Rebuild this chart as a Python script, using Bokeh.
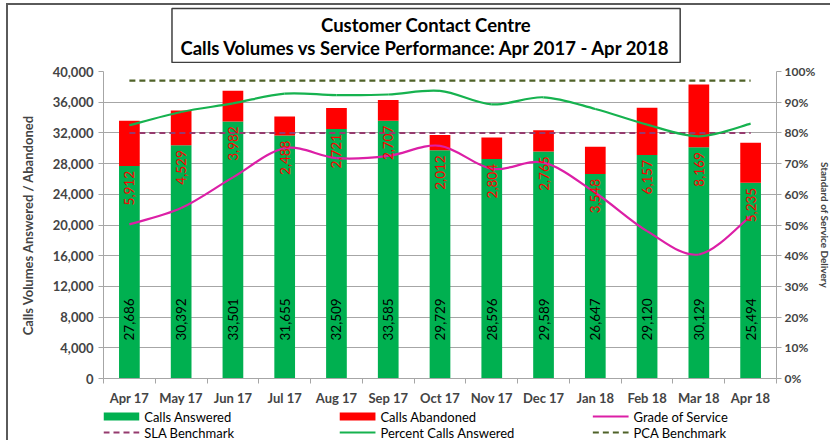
import numpy as np
from bokeh.plotting import figure
from bokeh.layouts import column
from bokeh.models import (ColumnDataSource, Range1d, LinearAxis, FixedTicker,
                          NumeralTickFormatter, PrintfTickFormatter)
from bokeh.core.properties import value
from bokeh.embed import file_html
from bokeh.resources import INLINE

# ---------------- data ----------------
months = ["Apr 17", "May 17", "Jun 17", "Jul 17", "Aug 17", "Sep 17", "Oct 17",
          "Nov 17", "Dec 17", "Jan 18", "Feb 18", "Mar 18", "Apr 18"]
answered = [27686, 30392, 33501, 31655, 32509, 33585, 29729,
            28596, 29589, 26647, 29120, 30129, 25494]
abandoned = [5912, 4529, 3982, 2488, 2721, 2707, 2012,
             2804, 2765, 3548, 6157, 8169, 5235]
grade_of_service = [50.2, 55.5, 65.5, 75.0, 71.8, 72.5, 75.8,
                    68.3, 70.3, 60.5, 48.0, 40.4, 52.9]
percent_answered = [82.5, 86.8, 89.6, 92.8, 92.3, 92.5, 93.7,
                    89.3, 91.6, 87.8, 82.7, 78.9, 83.0]
sla_benchmark = [80, 80, 80, 80, 80, 80, 80, 80, 80, 80, 80, 80, 80]
pca_benchmark = [97, 97, 97, 97, 97, 97, 97, 97, 97, 97, 97, 97, 97]
left_ticks = [0, 4000, 8000, 12000, 16000, 20000, 24000, 28000, 32000, 36000, 40000]
right_ticks = [0, 10, 20, 30, 40, 50, 60, 70, 80, 90, 100]
title_lines = ["Customer Contact Centre",
               "Calls Volumes vs Service Performance: Apr 2017 - Apr 2018"]
series_names = ["Calls Answered", "Calls Abandoned", "Grade of Service",
                "SLA Benchmark", "Percent Calls Answered", "PCA Benchmark"]

# ---------------- style ----------------
FONT = "Lato"
GREEN = "#00B050"
RED = "#FF0000"
MAGENTA = "#DC1FA6"
SLA_COLOR = "#953A6E"
PCA_LINE = "#16B24F"
PCA_BENCH = "#4F6228"
GRID = "#A6A6A6"
ANSWERED_LABEL_Y = 7700
FRAME_W = 673
FIG_W = 821

idx = list(range(len(months)))
src = ColumnDataSource(dict(
    x=idx,
    answered=answered,
    abandoned=abandoned,
    answered_lbl=[f"{v:,}" for v in answered],
    abandoned_lbl=[f"{v:,}" for v in abandoned],
    lbl_y=[ANSWERED_LABEL_Y] * len(idx),
))


def smooth_segments(xs, ys):
    """Bezier control points (Excel-like smoothing) for the bezier glyph."""
    n = len(ys)
    d = dict(x0=[], y0=[], x1=[], y1=[], cx0=[], cy0=[], cx1=[], cy1=[])
    for i in range(n - 1):
        ym = ys[max(i - 1, 0)]
        yp = ys[min(i + 2, n - 1)]
        xm = xs[max(i - 1, 0)]
        xp = xs[min(i + 2, n - 1)]
        d["x0"].append(xs[i]); d["y0"].append(ys[i])
        d["x1"].append(xs[i + 1]); d["y1"].append(ys[i + 1])
        d["cx0"].append(xs[i] + (xs[i + 1] - xm) / 6.0)
        d["cy0"].append(ys[i] + (ys[i + 1] - ym) / 6.0)
        d["cx1"].append(xs[i + 1] - (xp - xs[i]) / 6.0)
        d["cy1"].append(ys[i + 1] - (yp - ys[i]) / 6.0)
    return ColumnDataSource(d)


def strip(height):
    f = figure(width=FIG_W, height=height, x_range=Range1d(0, FRAME_W),
               y_range=Range1d(0, height), x_axis_location=None,
               y_axis_location=None, min_border=0, output_backend="svg",
               toolbar_location=None, background_fill_color="white",
               border_fill_color="white")
    f.grid.visible = False
    f.outline_line_color = None
    return f


# ---------------- title strip (frame aligned with the chart frame) ----------------
tf = strip(58)
tf.quad(left=[69], right=[581], top=[55], bottom=[1], fill_color="white",
        line_color="#3F3F3F", line_width=1.5)
tf.text(x=[325, 325], y=[39, 16], text=title_lines, text_align="center",
        text_baseline="middle", text_color="black", text_font=value(FONT),
        text_font_style="bold", text_font_size="18.5px")

# ---------------- main chart ----------------
p = figure(frame_width=FRAME_W, frame_height=307,
           min_border_left=95, min_border_right=53,
           min_border_top=8, min_border_bottom=0,
           x_range=Range1d(-0.5, len(months) - 0.5),
           y_range=Range1d(0, 40000),
           output_backend="svg", toolbar_location=None,
           background_fill_color="white", border_fill_color="white")
p.outline_line_color = None
p.extra_y_ranges = {"pct": Range1d(0, 100)}

p.vbar_stack(["answered", "abandoned"], x="x", width=0.4,
             color=[GREEN, RED], line_color=None, source=src)

p.line(idx, sla_benchmark, y_range_name="pct", line_color=SLA_COLOR,
       line_width=2, line_dash="6 4")
p.line(idx, pca_benchmark, y_range_name="pct", line_color=PCA_BENCH,
       line_width=2.2, line_dash="6 4")
p.bezier(x0="x0", y0="y0", x1="x1", y1="y1", cx0="cx0", cy0="cy0",
         cx1="cx1", cy1="cy1", source=smooth_segments(idx, percent_answered),
         y_range_name="pct", line_color=PCA_LINE, line_width=2.2)
p.bezier(x0="x0", y0="y0", x1="x1", y1="y1", cx0="cx0", cy0="cy0",
         cx1="cx1", cy1="cy1", source=smooth_segments(idx, grade_of_service),
         y_range_name="pct", line_color=MAGENTA, line_width=2.2)

p.text(x="x", y="lbl_y", text="answered_lbl", source=src, angle=np.pi / 2,
       text_align="center", text_baseline="middle", text_color="black",
       text_font=value(FONT), text_font_size="13.5px")
p.text(x="x", y="answered", text="abandoned_lbl", source=src, angle=np.pi / 2,
       text_align="right", text_baseline="middle", y_offset=5, text_color=RED,
       text_font=value(FONT), text_font_size="13.5px")

# left axis
p.yaxis.ticker = FixedTicker(ticks=left_ticks)
p.yaxis.formatter = NumeralTickFormatter(format="0,0")
p.yaxis.axis_label = "Calls Volumes Answered / Abandoned"
p.yaxis.axis_label_text_font = FONT
p.yaxis.axis_label_text_font_style = "bold"
p.yaxis.axis_label_text_font_size = "13px"
p.yaxis.axis_label_standoff = 14
p.yaxis.major_label_text_font = FONT
p.yaxis.major_label_text_font_style = "bold"
p.yaxis.major_label_text_font_size = "13px"
p.yaxis.axis_line_color = GRID
p.yaxis.major_tick_line_color = GRID
p.yaxis.major_tick_out = 5
p.yaxis.major_tick_in = 0
p.yaxis.minor_tick_line_color = None
p.yaxis.major_label_standoff = 5

# bottom axis (ticks between categories)
p.xaxis.ticker = FixedTicker(ticks=idx, minor_ticks=[i - 0.5 for i in range(len(idx) + 1)])
p.xaxis.major_label_overrides = {i: m for i, m in zip(idx, months)}
p.xaxis.major_tick_out = 0
p.xaxis.major_tick_in = 0
p.xaxis.minor_tick_out = 5
p.xaxis.minor_tick_in = 0
p.xaxis.minor_tick_line_color = GRID
p.xaxis.axis_line_color = GRID
p.xaxis.major_label_standoff = 6
p.xaxis.major_label_text_font = FONT
p.xaxis.major_label_text_font_style = "bold"
p.xaxis.major_label_text_font_size = "13px"

# right axis
right = LinearAxis(y_range_name="pct", ticker=FixedTicker(ticks=right_ticks),
                   formatter=PrintfTickFormatter(format="%d%%"))
right.axis_line_color = GRID
right.major_tick_line_color = GRID
right.major_tick_out = 5
right.major_tick_in = 0
right.minor_tick_line_color = None
right.major_label_standoff = 3
right.major_label_text_font = FONT
right.major_label_text_font_style = "bold"
right.major_label_text_font_size = "12px"
right.axis_label = "Standard of Service Delivery"
right.axis_label_standoff = 1
right.axis_label_text_font = FONT
right.axis_label_text_font_style = "bold"
right.axis_label_text_font_size = "10px"
p.add_layout(right, "right")

p.ygrid.ticker = FixedTicker(ticks=left_ticks)
p.ygrid.grid_line_color = GRID
p.xgrid.visible = False

# ---------------- legend strip (3 columns x 2 rows) ----------------
LEG_H = 32
lf = strip(LEG_H)
col_x = [0, 238, 493]            # key start of each column (frame px)
key_w = 36
row_y = [LEG_H - 8, LEG_H - 24]  # row centres
# row 1: box, box, line ; row 2: dashed, line, dashed
lf.quad(left=[col_x[0], col_x[1]], right=[col_x[0] + key_w, col_x[1] + key_w],
        top=[row_y[0] + 4] * 2, bottom=[row_y[0] - 4] * 2,
        fill_color=[GREEN, RED], line_color=None)
lf.line([col_x[2], col_x[2] + key_w], [row_y[0]] * 2, line_color=MAGENTA, line_width=2.2)
lf.line([col_x[0], col_x[0] + key_w], [row_y[1]] * 2, line_color=SLA_COLOR,
        line_width=2, line_dash="6 4")
lf.line([col_x[1], col_x[1] + key_w], [row_y[1]] * 2, line_color=PCA_LINE, line_width=2.2)
lf.line([col_x[2], col_x[2] + key_w], [row_y[1]] * 2, line_color=PCA_BENCH,
        line_width=2.2, line_dash="6 4")
lf.text(x=[c + key_w + 5 for c in col_x] * 2,
        y=[row_y[0]] * 3 + [row_y[1]] * 3,
        text=series_names, text_align="left", text_baseline="middle",
        text_color="black", text_font=value(FONT), text_font_size="13px")

layout = column(tf, p, lf, spacing=0)
layout.styles = {"border-left": "2px solid #5a5a5a", "border-top": "2px solid #5a5a5a",
                 "margin-left": "6px", "margin-top": "3px"}

open("out.html", "w").write(file_html(layout, INLINE))
